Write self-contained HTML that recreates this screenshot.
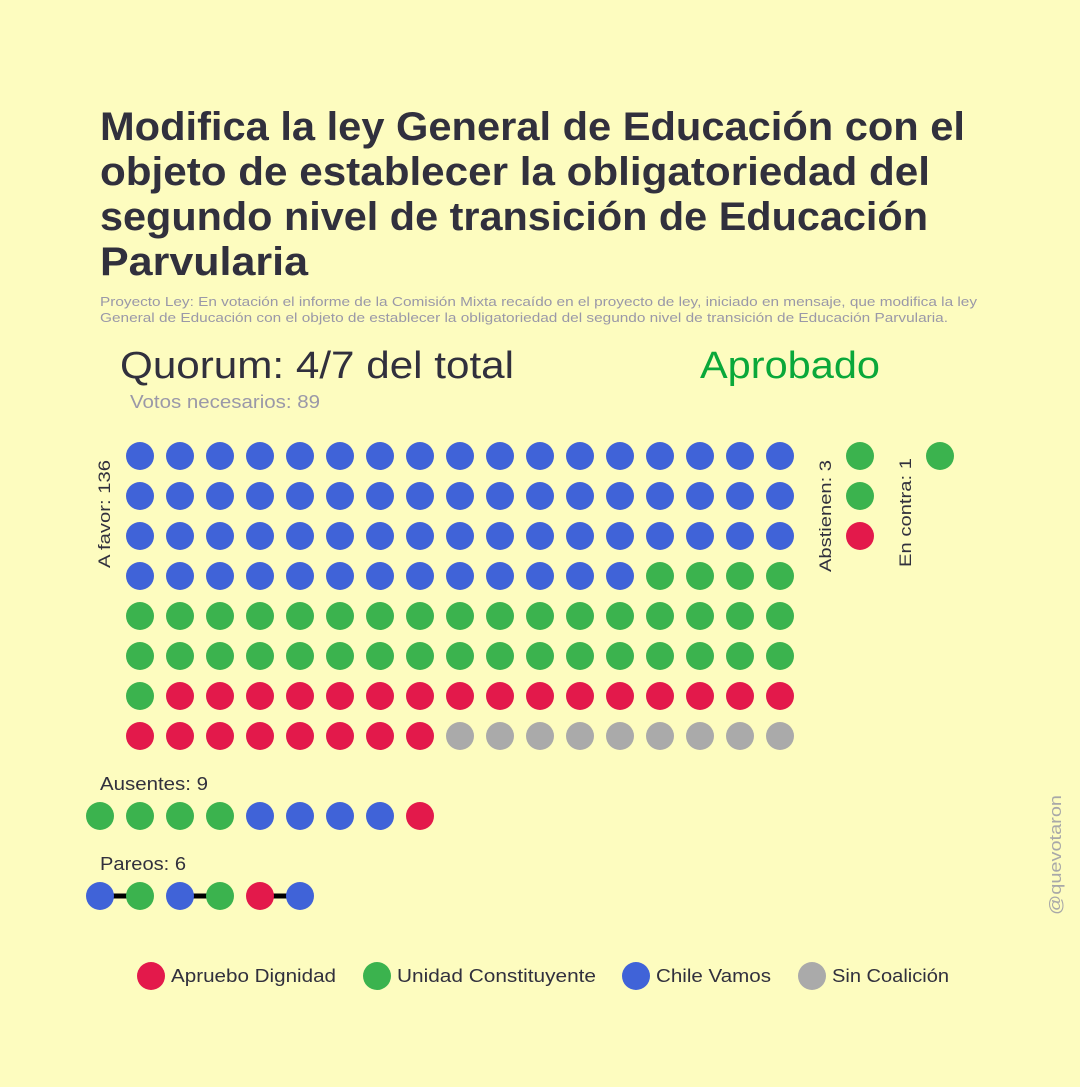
<!DOCTYPE html>
<html><head><meta charset="utf-8"><style>
body{margin:0;background:#fdfcbf;}
svg{display:block;font-family:"Liberation Sans",sans-serif;}
</style></head><body>
<svg width="1080" height="1087" viewBox="0 0 1080 1087">
<rect width="1080" height="1087" fill="#fdfcbf"/>
<g fill="#31303d" font-weight="bold" font-size="40">
<text x="100" y="140" textLength="865" lengthAdjust="spacingAndGlyphs">Modifica la ley General de Educación con el</text>
<text x="100" y="185" textLength="830" lengthAdjust="spacingAndGlyphs">objeto de establecer la obligatoriedad del</text>
<text x="100" y="230" textLength="828" lengthAdjust="spacingAndGlyphs">segundo nivel de transición de Educación</text>
<text x="100" y="275" textLength="208" lengthAdjust="spacingAndGlyphs">Parvularia</text>
</g>
<g fill="#9a98a8" font-size="13">
<text x="100" y="306" textLength="877" lengthAdjust="spacingAndGlyphs">Proyecto Ley: En votación el informe de la Comisión Mixta recaído en el proyecto de ley, iniciado en mensaje, que modifica la ley</text>
<text x="100" y="322" textLength="848" lengthAdjust="spacingAndGlyphs">General de Educación con el objeto de establecer la obligatoriedad del segundo nivel de transición de Educación Parvularia.</text>
</g>
<text x="120" y="378" font-size="38" fill="#31303d" textLength="394" lengthAdjust="spacingAndGlyphs">Quorum: 4/7 del total</text>
<text x="700" y="378" font-size="38" fill="#0aa83a" textLength="180" lengthAdjust="spacingAndGlyphs">Aprobado</text>
<text x="130" y="408" font-size="18" fill="#9a98a8" textLength="190" lengthAdjust="spacingAndGlyphs">Votos necesarios: 89</text>
<text transform="translate(110,568) rotate(-90)" font-size="17" fill="#31303d" textLength="108" lengthAdjust="spacingAndGlyphs">A favor: 136</text>
<text transform="translate(831,572) rotate(-90)" font-size="17" fill="#31303d" textLength="112" lengthAdjust="spacingAndGlyphs">Abstienen: 3</text>
<text transform="translate(911,567) rotate(-90)" font-size="17" fill="#31303d" textLength="109" lengthAdjust="spacingAndGlyphs">En contra: 1</text>
<text x="100" y="790" font-size="18" fill="#31303d" textLength="108" lengthAdjust="spacingAndGlyphs">Ausentes: 9</text>
<text x="100" y="870" font-size="18" fill="#31303d" textLength="86" lengthAdjust="spacingAndGlyphs">Pareos: 6</text>
<text transform="translate(1061,915) rotate(-90)" font-size="17" fill="#a8a8a8" textLength="120" lengthAdjust="spacingAndGlyphs">@quevotaron</text>
<g id="marks"></g>
<g id="legend" font-size="18" fill="#31303d"></g>
</svg>
<script>
const coalitions = ["Apruebo Dignidad","Unidad Constituyente","Chile Vamos","Sin Coalición"];
const colors = {"Apruebo Dignidad":"#e3194b","Unidad Constituyente":"#3bb34e","Chile Vamos":"#4063d8","Sin Coalición":"#aaaaaa"};
const favorCounts = [24, 39, 64, 9]; // per coalition
const favorOrder = ["Chile Vamos","Unidad Constituyente","Apruebo Dignidad","Sin Coalición"];
const abstain = ["Unidad Constituyente","Unidad Constituyente","Apruebo Dignidad"];
const against = ["Unidad Constituyente"];
const absent = ["Unidad Constituyente","Unidad Constituyente","Unidad Constituyente","Unidad Constituyente","Chile Vamos","Chile Vamos","Chile Vamos","Chile Vamos","Apruebo Dignidad"];
const pairs = [["Chile Vamos","Unidad Constituyente"],["Chile Vamos","Unidad Constituyente"],["Apruebo Dignidad","Chile Vamos"]];
const legendX = [151, 377, 636, 812];
const legendW = [165, 199, 115, 117];

const NS="http://www.w3.org/2000/svg";
const marks=document.getElementById('marks');
const R=14, COLS=17;
const colX=i=>140+40*i, rowY=j=>456+40*j;
function dot(x,y,c,name){
  const e=document.createElementNS(NS,'circle');
  e.setAttribute('cx',x);e.setAttribute('cy',y);e.setAttribute('r',R);e.setAttribute('fill',colors[c]);
  
  
  marks.appendChild(e);
}
let k=0;
favorOrder.forEach(c=>{
  const n=favorCounts[coalitions.indexOf(c)];
  for(let i=0;i<n;i++){dot(colX(k%COLS),rowY(Math.floor(k/COLS)),c,'favor-dot');k++;}
});
abstain.forEach((c,i)=>dot(860,rowY(i),c,'abstain-dot'));
against.forEach((c,i)=>dot(940,rowY(i),c,'against-dot'));
absent.forEach((c,i)=>dot(100+40*i,816,c,'absent-dot'));
pairs.forEach((p,i)=>{
  const x0=100+80*i;
  const l=document.createElementNS(NS,'line');
  l.setAttribute('x1',x0);l.setAttribute('x2',x0+40);l.setAttribute('y1',896);l.setAttribute('y2',896);
  l.setAttribute('stroke','#000');l.setAttribute('stroke-width',5);
  
  
  marks.appendChild(l);
  dot(x0,896,p[0],'pair-dot');dot(x0+40,896,p[1],'pair-dot');
});
const lg=document.getElementById('legend');
coalitions.forEach((c,i)=>{
  const g=document.createElementNS(NS,'g');
  
  
  const ci=document.createElementNS(NS,'circle');
  ci.setAttribute('cx',legendX[i]);ci.setAttribute('cy',976);ci.setAttribute('r',14);ci.setAttribute('fill',colors[c]);
  const t=document.createElementNS(NS,'text');
  t.setAttribute('x',legendX[i]+20);t.setAttribute('y',982);t.textContent=c;
  t.setAttribute('textLength',legendW[i]);t.setAttribute('lengthAdjust','spacingAndGlyphs');
  g.appendChild(ci);g.appendChild(t);lg.appendChild(g);
});
</script>
</body></html>
